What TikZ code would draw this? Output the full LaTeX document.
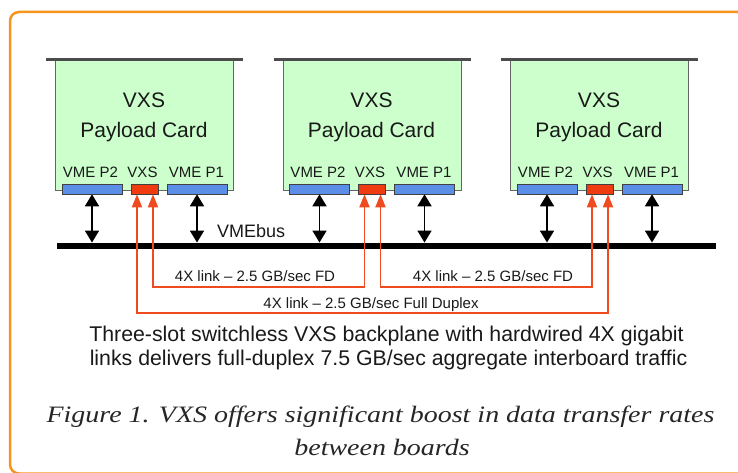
\documentclass[tikz,border=0pt]{standalone}
\usepackage{fontspec}
\setmainfont{Liberation Sans}
\newfontfamily\capfont{Liberation Serif}[FakeStretch=1.19]
\usetikzlibrary{arrows.meta,calc}
\definecolor{cardgreen}{HTML}{CCFFCC}
\definecolor{connblue}{HTML}{5B8EE6}
\definecolor{connred}{HTML}{F03A10}
\definecolor{linkred}{HTML}{F04A20}
\definecolor{frameorange}{HTML}{F7941D}
\begin{document}
\begin{tikzpicture}[x=1pt,y=-1pt,
  card/.style={draw=black!60, fill=cardgreen, line width=0.8pt, minimum width=178pt, minimum height=130pt, anchor=north west, inner sep=0pt},
  topbar/.style={draw=black!70, line width=3pt},
  conn/.style={draw=black!75, line width=0.6pt, minimum height=10pt, inner sep=0pt, anchor=center},
  vmeconn/.style={conn, fill=connblue, minimum width=60pt},
  vxsconn/.style={conn, fill=connred, minimum width=27pt},
  title/.style={font=\fontsize{21}{21}\selectfont, anchor=base, inner sep=0pt, text=black!90},
  plabel/.style={font=\fontsize{15}{15}\selectfont, anchor=base, inner sep=0pt, text=black!90},
  bus/.style={fill=black, minimum width=659pt, minimum height=6.5pt, inner sep=0pt, anchor=west},
  vmearrow/.style={{Triangle[width=14pt,length=12pt]}-{Triangle[width=14pt,length=12pt]}, line width=1.8pt, black},
  link/.style={{Triangle[width=10pt,length=13pt]}-{Triangle[width=10pt,length=13pt]}, line width=1.8pt, linkred},
  linklabel/.style={font=\fontsize{15}{15}\selectfont, anchor=base, inner sep=0pt, text=black!90},
  bodytext/.style={font=\fontsize{21.3}{21.3}\selectfont, anchor=base, inner sep=0pt, text=black!90},
  captext/.style={font=\capfont\itshape\fontsize{23.5}{23.5}\selectfont, anchor=base, inner sep=0pt, text=black!85},
]
\useasboundingbox (0,0) rectangle (738,473);
\clip (0,0) rectangle (738,473);
% frame
\draw[frameorange, line width=2.5pt, rounded corners=9pt] (10,12) rectangle (790,473.5);
% bus
\node[bus] (bus) at (57,246) {};
\node[font=\fontsize{18}{18}\selectfont, anchor=base west, inner sep=0pt, text=black!90] (vmebus) at (217,237) {VMEbus};
% cards
\foreach \i/\L in {1/55,2/282.5,3/510}{
  \node[card] (card\i) at (\L,60) {};
  \draw[topbar] (\L-9,60) -- (\L+188,60);
  \node[title] (vxs\i) at (\L+89,108) {VXS};
  \node[title] (pc\i) at (\L+89,138) {Payload Card};
  \node[plabel] (lp2\i) at (\L+35.5,178) {VME P2};
  \node[plabel] (lx\i) at (\L+87.5,178) {VXS};
  \node[plabel] (lp1\i) at (\L+141.5,178) {VME P1};
  \node[vmeconn] (p2\i) at (\L+37,189) {};
  \node[vxsconn] (x\i) at (\L+89.5,189) {};
  \node[vmeconn] (p1\i) at (\L+142,189) {};
  \coordinate (xl\i) at ($(x\i.south)+(-7.5,0)$);
  \coordinate (xr\i) at ($(x\i.south)+(8.5,0)$);
  \draw[vmearrow] (p2\i.south) -- (p2\i.south |- bus.north);
  \draw[vmearrow] (p1\i.south) -- (p1\i.south |- bus.north);
}
% links
\coordinate (inner) at (0,287);
\coordinate (outer) at (0,313);
\draw[link] (xr1) -- (xr1 |- inner) -| (xl2);
\draw[link] (xr2) -- (xr2 |- inner) -| (xl3);
\draw[link] (xl1) -- (xl1 |- outer) -| (xr3);
\node[linklabel] (lab1) at (255,281) {4X link – 2.5 GB/sec FD};
\node[linklabel] (lab2) at (493,281) {4X link – 2.5 GB/sec FD};
\node[linklabel] (lab3) at (371,308) {4X link – 2.5 GB/sec Full Duplex};
% texts
\node[bodytext] (bt1) at (386.5,341) {Three-slot switchless VXS backplane with hardwired 4X gigabit};
\node[bodytext] (bt2) at (388.5,365) {links delivers full-duplex 7.5 GB/sec aggregate interboard traffic};
\node[captext] (cap1) at (380.5,422) {Figure 1. VXS offers significant boost in data transfer rates};
\node[captext] (cap2) at (382,455) {between boards};
\end{tikzpicture}
\end{document}
